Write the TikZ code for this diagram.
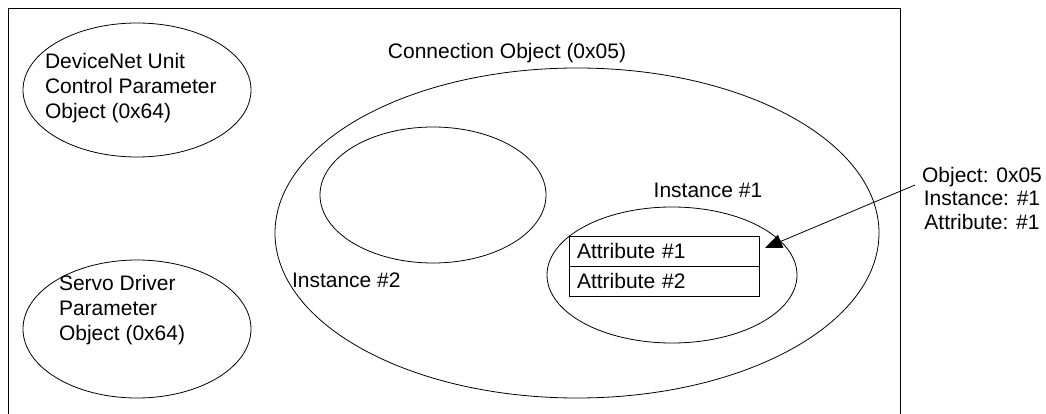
\documentclass[tikz,border=0pt]{standalone}
\usepackage{fontspec}
\setmainfont{Liberation Sans}
\usetikzlibrary{positioning,shapes.geometric,arrows.meta}

\begin{document}
\begin{tikzpicture}[x=1pt,y=-1pt,line width=0.8pt,
  every node/.style={font=\fontsize{21}{25}\selectfont,inner sep=0pt,outer sep=0pt},
  objell/.style n args={2}{draw,ellipse,minimum width=#1,minimum height=#2},
  attrbox/.style={draw,minimum height=30pt,text width=174pt,inner xsep=8pt,align=left}]
\useasboundingbox (0,0) rectangle (1046,414);
\draw (8,420) -- (8,8) -- (900,8) -- (900,420);
% standalone objects
\node[objell={228pt}{134pt}] (dnu) at (137,90) {};
\node[align=left,anchor=west] (dnutxt) at (45,88) {DeviceNet Unit\\Control Parameter\\Object (0x64)};
\node[objell={228pt}{138pt}] (srv) at (137,329) {};
\node[align=left,anchor=west] (srvtxt) at (59,310) {Servo Driver\\Parameter\\Object (0x64)};
% connection object
\node[objell={604pt}{330pt}] (conn) at (577,233) {};
\node (conntxt) at (507,53) {Connection Object (0x05)};
\node[objell={226pt}{136pt}] (inst2) at (433,195) {};
\node[anchor=west] (inst2txt) at (292,280) {Instance \#2};
\node[objell={250pt}{136pt}] (inst1) at (672,275) {};
\node (inst1txt) at (708,190) {Instance \#1};
\node[attrbox] (a1) at (664,251) {Attribute \#1};
\node[attrbox,below=0pt of a1] (a2) {Attribute \#2};
% pointer to attribute
\node[align=center,font=\fontsize{21}{23.5}\selectfont] (info) at (982,198) {Object: 0x05\\Instance: \#1\\Attribute: \#1};
\coordinate (src) at (915,185);
\coordinate (tip) at (765,248);
\draw[-{Triangle[length=17pt,width=14pt]}] (src) -- (tip);
\end{tikzpicture}
\end{document}
